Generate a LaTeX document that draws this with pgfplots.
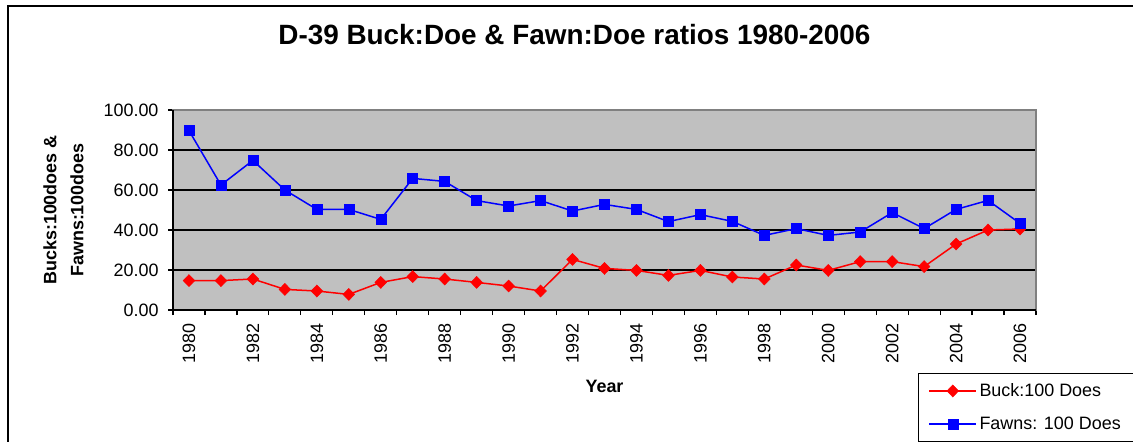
\documentclass[border=0pt]{standalone}
\usepackage{pgfplots}
\pgfplotsset{compat=1.18}
\usepackage{fontspec}
\setmainfont{Liberation Sans}
\definecolor{plotbg}{RGB}{192,192,192}
\definecolor{plotborder}{RGB}{128,128,128}
\begin{document}
\begin{tikzpicture}
\useasboundingbox (0bp,0bp) rectangle (1133bp,-442bp);
\clip (0bp,0bp) rectangle (1133bp,-442bp);
\draw[line width=1.5bp] (8bp,-470bp) -- (8bp,-6bp) -- (1160bp,-6bp);
\begin{axis}[
  name=ax,
  at={(173bp,-310bp)}, anchor=south west,
  scale only axis, width=863bp, height=200bp,
  xmin=-0.5, xmax=26.5, ymin=0, ymax=100,
  axis background/.style={fill=plotbg},
  axis line style={plotborder, line width=1.2bp},
  ytick={0,20,40,60,80,100},
  xtick={0,2,4,6,8,10,12,14,16,18,20,22,24,26},
  xticklabels={1980,1982,1984,1986,1988,1990,1992,1994,1996,1998,2000,2002,2004,2006},
  minor xtick={-0.5,0.5,...,26.5},
  tick pos=left,
  tick align=outside,
  major tick length=5bp, minor tick length=5bp,
  tick style={black, line width=1.2bp},
  major x tick style={draw=none},
  ymajorgrids, major grid style={black, line width=1.2bp},
  /pgf/number format/assume math mode=true,
  yticklabel style={/pgf/number format/.cd, fixed, fixed zerofill, precision=2, /tikz/.cd, xshift=-6bp},
  ticklabel style={font=\fontsize{18}{21}\selectfont},
  xticklabel style={rotate=90, anchor=east, xshift=-5bp},
  xlabel={Year},
  xlabel style={font=\bfseries\fontsize{18}{21}\selectfont, at={(axis description cs:0.5,-0.41)}, anchor=base},
  ylabel={Bucks:100does \&\\Fawns:100does},
  ylabel style={font=\bfseries\fontsize{18}{27}\selectfont, align=center, at={(axis description cs:-0.1269,0.5)}, anchor=center},
  title={D-39 Buck:Doe \& Fawn:Doe ratios 1980-2006},
  title style={font=\bfseries\fontsize{28}{32}\selectfont, at={(axis description cs:0.4652,1.3)}, anchor=base},
  legend image code/.code={\draw[mark repeat=2,mark phase=2,#1] plot coordinates {(0bp,0bp) (23.5bp,0bp) (47bp,0bp)};},
  legend cell align=left,
  legend style={at={(0.8633,-0.3135)}, anchor=north west, draw=black, line width=1bp, fill=white,
    font=\fontsize{18}{21}\selectfont, inner xsep=10bp, inner ysep=8bp, row sep=14bp,
    nodes={inner sep=2.5bp}},
]
\addplot[red, line width=1.5bp, mark=diamond*, mark size=6bp, mark options={solid, fill=red, line width=0.5bp, xscale=1.3}]
coordinates {
(0,14.7) (1,14.7) (2,15.5) (3,10.3) (4,9.5) (5,7.8) (6,13.8) (7,16.7) (8,15.5) (9,13.8)
(10,12.0) (11,9.5) (12,25.3) (13,20.8) (14,19.8) (15,17.3) (16,19.8) (17,16.5) (18,15.5)
(19,22.5) (20,19.8) (21,24.2) (22,24.2) (23,21.7) (24,33.0) (25,40.0) (26,40.5)
};
\addlegendentry{Buck:100 Does}
\addplot[blue, line width=1.5bp, mark=square*, mark size=5bp, mark options={solid, fill=blue, line width=0.5bp}]
coordinates {
(0,89.7) (1,62.5) (2,74.8) (3,60.0) (4,50.3) (5,50.3) (6,45.3) (7,65.8) (8,64.3) (9,54.7)
(10,52.0) (11,54.7) (12,49.5) (13,52.8) (14,50.3) (15,44.2) (16,47.7) (17,44.3) (18,37.3)
(19,40.7) (20,37.3) (21,39.0) (22,48.7) (23,40.7) (24,50.3) (25,54.8) (26,43.3)
};
\addlegendentry{Fawns: 100 Does}
\end{axis}
\draw[black, line width=1.5bp] (ax.north west) -- (ax.south west) -- (ax.south east);
\end{tikzpicture}
\end{document}
